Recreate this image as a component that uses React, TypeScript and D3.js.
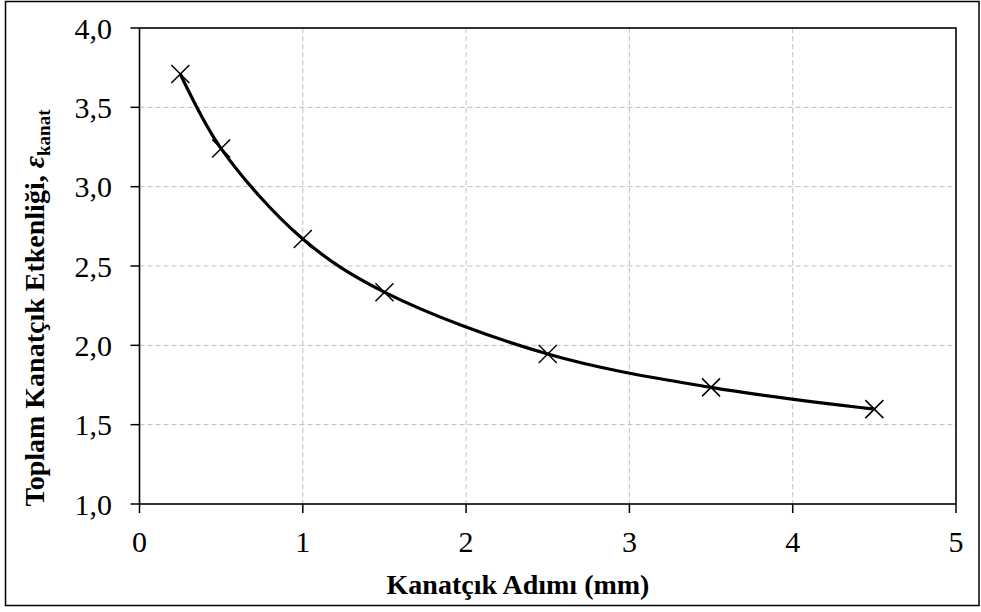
import React from "react";
import * as d3 from "d3";

const xValues = [0.25, 0.5, 1, 1.5, 2.5, 3.5, 4.5];
const yValues = [3.71, 3.24, 2.67, 2.335, 1.945, 1.735, 1.598];
const xTicks = [0, 1, 2, 3, 4, 5];
const yTicks = [1.0, 1.5, 2.0, 2.5, 3.0, 3.5, 4.0];

const W = 981;
const H = 612;
const plot = { left: 139.5, right: 956, top: 28, bottom: 504 };

export default function App() {
  const x = d3.scaleLinear().domain([0, 5]).range([plot.left, plot.right]);
  const y = d3.scaleLinear().domain([1, 4]).range([plot.bottom, plot.top]);
  const pts: [number, number][] = xValues.map((v, i) => [v, yValues[i]]);
  const line = d3
    .line<[number, number]>()
    .x((d) => x(d[0]))
    .y((d) => y(d[1]))
    .curve(d3.curveCatmullRom.alpha(0.5));
  const fmt = (v: number) => v.toFixed(1).replace(".", ",");
  const serif = "'Liberation Serif', 'Times New Roman', serif";
  const m = 9;
  return (
    <svg
      width={W}
      height={H}
      style={{ position: "absolute", left: 0, top: 0, background: "#fff" }}
      fontFamily={serif}
    >
      <rect x={0} y={0} width={W} height={H} fill="#fff" />
      <rect x={5.5} y={1.5} width={973.5} height={604} fill="none" stroke="#000" strokeWidth={1.5} />
      {xTicks.slice(1, -1).map((t) => (
        <line key={"gx" + t} x1={x(t)} x2={x(t)} y1={plot.top} y2={plot.bottom} stroke="#bfbfbf" strokeWidth={1} strokeDasharray="5,3" />
      ))}
      {yTicks.slice(1, -1).map((t) => (
        <line key={"gy" + t} x1={plot.left} x2={plot.right} y1={y(t)} y2={y(t)} stroke="#bfbfbf" strokeWidth={1} strokeDasharray="5,3" />
      ))}
      <rect x={plot.left} y={plot.top} width={plot.right - plot.left} height={plot.bottom - plot.top} fill="none" stroke="#000" strokeWidth={1.6} />
      {yTicks.map((t) => (
        <g key={"yt" + t}>
          <line x1={plot.left - 9} x2={plot.left} y1={y(t)} y2={y(t)} stroke="#000" strokeWidth={1.5} />
          <text x={112} y={y(t)} dy="0.35em" textAnchor="end" fontSize={30} fill="#000">
            {fmt(t)}
          </text>
        </g>
      ))}
      {xTicks.map((t) => (
        <g key={"xt" + t}>
          <line x1={x(t)} x2={x(t)} y1={plot.bottom} y2={plot.bottom + 9} stroke="#000" strokeWidth={1.5} />
          <text x={x(t)} y={552} textAnchor="middle" fontSize={30} fill="#000">
            {t}
          </text>
        </g>
      ))}
      <path d={line(pts) || ""} fill="none" stroke="#000" strokeWidth={3.2} />
      {pts.map((p, i) => (
        <g key={"m" + i} stroke="#000" strokeWidth={1.5}>
          <line x1={x(p[0]) - m} x2={x(p[0]) + m} y1={y(p[1]) - m} y2={y(p[1]) + m} />
          <line x1={x(p[0]) - m} x2={x(p[0]) + m} y1={y(p[1]) + m} y2={y(p[1]) - m} />
        </g>
      ))}
      <text x={518} y={594} textAnchor="middle" fontSize={28} fontWeight="bold" fill="#000">
        Kanatçık Adımı (mm)
      </text>
      <text
        transform="translate(44,308) rotate(-90)"
        textAnchor="middle"
        fontSize={28}
        fontWeight="bold"
        fill="#000"
      >
        Toplam Kanatçık Etkenliği,{" "}
        <tspan fontStyle="italic" fontSize={30}>ε</tspan>
        <tspan fontSize={19} dy={6}>kanat</tspan>
      </text>
    </svg>
  );
}
